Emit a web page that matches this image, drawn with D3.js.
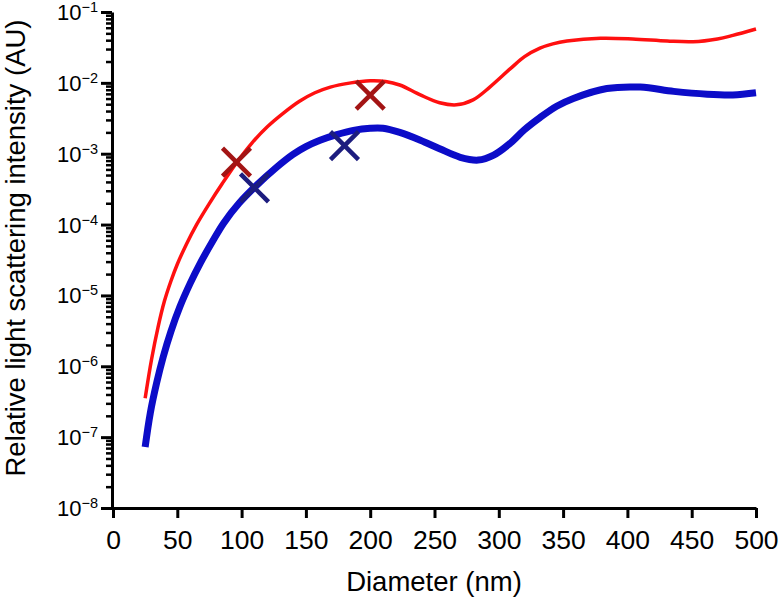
<!DOCTYPE html>
<html>
<head>
<meta charset="utf-8">
<script src="https://cdn.jsdelivr.net/npm/d3@7"></script>
<style>
  body { margin: 0; background: #fff; }
  svg { display: block; font-family: "Liberation Sans", Arial, Helvetica, sans-serif; }
</style>
</head>
<body>
<svg id="chart" width="779" height="597"></svg>
<script>
// diameters (nm) and log10 intensity
const redDiam = [25, 30, 35, 40, 45, 50, 57, 65, 75, 85, 96, 108, 120, 133, 145, 157, 169, 185, 200, 212, 223, 239, 254, 267, 280, 293, 309, 320, 332, 342, 353, 379, 404, 431, 451, 470, 482, 500];
const redLog = [-6.45, -5.90, -5.45, -5.08, -4.80, -4.56, -4.28, -4.00, -3.70, -3.42, -3.13, -2.85, -2.62, -2.42, -2.26, -2.14, -2.06, -2.00, -1.97, -1.98, -2.03, -2.17, -2.28, -2.31, -2.24, -2.06, -1.80, -1.63, -1.51, -1.45, -1.41, -1.37, -1.38, -1.41, -1.42, -1.38, -1.33, -1.24];

const blueDiam = [25, 29, 34, 39, 45, 52, 60, 68, 77, 86, 98, 112, 126, 140, 150, 161, 174, 187, 200, 210, 223, 239, 254, 270, 284, 296, 309, 320, 332, 345, 358, 384, 410, 436, 462, 482, 500];
const blueLog = [-7.14, -6.66, -6.23, -5.87, -5.51, -5.16, -4.83, -4.54, -4.25, -3.98, -3.70, -3.44, -3.21, -3.01, -2.90, -2.81, -2.73, -2.67, -2.64, -2.64, -2.70, -2.81, -2.93, -3.05, -3.09, -3.02, -2.85, -2.66, -2.49, -2.33, -2.22, -2.08, -2.06, -2.12, -2.16, -2.17, -2.14];

// measured points (X markers)
const redMarkDiam = [96, 200];
const redMarkVal = [7.6e-4, 6.7e-3];
const blueMarkDiam = [110, 180];
const blueMarkVal = [3.3e-4, 1.3e-3];

const xTicks = [0, 50, 100, 150, 200, 250, 300, 350, 400, 450, 500];
const yExps = [-8, -7, -6, -5, -4, -3, -2, -1];

svg = d3.select("#chart")

xScale = d3.scaleLinear().domain([0, 500]).range([113, 756])
yScale = d3.scaleLog().domain([1e-8, 1e-1]).range([508, 12])

// minor ticks 2..9 in every decade
minorTicks = []
for (var e = -8; e < -1; e++) {
    for (var m = 2; m <= 9; m++) {
        minorTicks.push(m * Math.pow(10, e))
    }
}

// Y axis: minor ticks
svg.append("g")
    .attr("transform", "translate(112,0)")
    .call(d3.axisLeft(yScale).tickValues(minorTicks).tickSize(6).tickFormat(""))
    .call(g => g.select(".domain").remove())
    .selectAll("line").attr("stroke", "#000").attr("stroke-width", 2.5)

// Y axis: major ticks + line
yAxisG = svg.append("g")
    .attr("transform", "translate(112,0)")
    .call(d3.axisLeft(yScale).tickValues(yExps.map(e => Math.pow(10, e))).tickSize(11).tickSizeOuter(0).tickFormat(""))
yAxisG.select(".domain").attr("stroke", "#000").attr("stroke-width", 3)
yAxisG.selectAll("line").attr("stroke", "#000").attr("stroke-width", 3)

// Y tick labels as 10 with superscript
yLabels = svg.append("g").attr("fill", "#000")
yExps.forEach(function (e) {
    var t = yLabels.append("text")
        .attr("x", 98)
        .attr("y", yScale(Math.pow(10, e)) + 8)
        .attr("text-anchor", "end")
        .attr("font-size", 22)
    t.append("tspan").text("10")
    t.append("tspan").attr("dy", -8).attr("font-size", 14.5).text("\u2212" + Math.abs(e))
})

// X axis
xAxisG = svg.append("g")
    .attr("transform", "translate(0,508)")
    .call(d3.axisBottom(xScale).tickValues(xTicks).tickSize(10).tickSizeOuter(0).tickPadding(12))
xAxisG.select(".domain").attr("stroke", "#000").attr("stroke-width", 3)
xAxisG.selectAll("line").attr("stroke", "#000").attr("stroke-width", 3)
xAxisG.selectAll("text")
    .attr("font-size", 26.5)
    .attr("fill", "#000")
    .attr("font-family", "\"Liberation Sans\", Arial, sans-serif")

// Axis titles
svg.append("text")
    .attr("x", 434)
    .attr("y", 591)
    .attr("text-anchor", "middle")
    .attr("font-size", 27.5)
    .text("Diameter (nm)")

svg.append("text")
    .attr("transform", "translate(25,248) rotate(-90)")
    .attr("text-anchor", "middle")
    .attr("font-size", 27.5)
    .text("Relative light scattering intensity (AU)")

// curves
line = d3.line()
    .x(d => xScale(d[0]))
    .y(d => yScale(Math.pow(10, d[1])))
    .curve(d3.curveCatmullRom.alpha(0.5))

svg.append("path")
    .datum(blueDiam.map((d, i) => [d, blueLog[i]]))
    .attr("fill", "none")
    .attr("stroke", "#0c0cc8")
    .attr("stroke-width", 7)
    .attr("d", line)

svg.append("path")
    .datum(redDiam.map((d, i) => [d, redLog[i]]))
    .attr("fill", "none")
    .attr("stroke", "#ff1010")
    .attr("stroke-width", 3.5)
    .attr("d", line)

// X markers
function drawCross(diam, vals, color) {
    var s = 14
    diam.forEach(function (d, i) {
        var cx = xScale(d), cy = yScale(vals[i])
        var g = svg.append("g").attr("stroke", color).attr("stroke-width", 4.5)
        g.append("line").attr("x1", cx - s).attr("y1", cy - s).attr("x2", cx + s).attr("y2", cy + s)
        g.append("line").attr("x1", cx - s).attr("y1", cy + s).attr("x2", cx + s).attr("y2", cy - s)
    })
}
drawCross(blueMarkDiam, blueMarkVal, "#1c1c7e")
drawCross(redMarkDiam, redMarkVal, "#a31414")
</script>
</body>
</html>
